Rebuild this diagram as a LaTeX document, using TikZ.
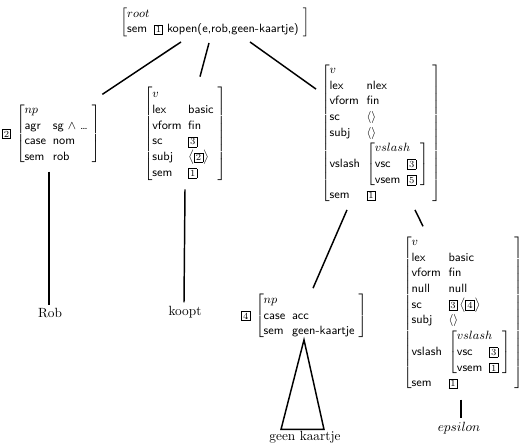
\documentclass[tikz,border=0pt]{standalone}
\usepackage{amsmath}
\usepackage{amssymb}
\usepackage{tikz}
\usetikzlibrary{calc}

\newcommand{\tagnum}[1]{{\setlength{\fboxsep}{1pt}\fbox{\rmfamily\scriptsize #1}}}
\newcommand{\avm}[2]{$\left[\renewcommand{\arraystretch}{1.07}\begin{tabular}{@{}l@{\hspace{5pt}}l@{\hspace{3pt}}}\multicolumn{2}{@{}l}{$#1$}\\#2\end{tabular}\right]$}

\tikzset{
  avmnode/.style={inner sep=0pt, font=\small\sffamily},
  leaf/.style={inner sep=1pt},
  branch/.style={line width=1.1pt}
}

\begin{document}
\begin{tikzpicture}[x=0.75pt, y=-0.75pt]
\useasboundingbox (0,0) rectangle (521,444);
% feature structures
\node[avmnode] (root) at (215,22) {\avm{root}{sem & \tagnum{1} kopen(e,rob,geen-kaartje)}};
\node[avmnode] (np1) at (51,134) {\tagnum{2}\hspace{4pt}\avm{np}{agr & sg $\wedge$ \dots\\ case & nom\\ sem & rob}};
\node[avmnode] (vk) at (185,134) {\avm{v}{lex & basic\\ vform & fin\\ sc & \tagnum{3}\\ subj & $\bigl\langle\tagnum{2}\bigr\rangle$\\ sem & \tagnum{1}}};
\node[avmnode] (vs) at (381,133) {\avm{v}{lex & nlex\\ vform & fin\\ sc & $\langle\rangle$\\ subj & $\langle\rangle$\\
  vslash & \avm{vslash}{vsc & \tagnum{3}\\ vsem & \tagnum{5}}\\ sem & \tagnum{1}}};
\node[avmnode] (np2) at (304,316) {\tagnum{4}\hspace{4pt}\avm{np}{case & acc\\ sem & geen-kaartje}};
\node[avmnode] (ve) at (463,313) {\avm{v}{lex & basic\\ vform & fin\\ null & null\\ sc & \tagnum{3}\,$\bigl\langle\tagnum{4}\bigr\rangle$\\ subj & $\langle\rangle$\\
  vslash & \avm{vslash}{vsc & \tagnum{3}\\ vsem & \tagnum{1}}\\ sem & \tagnum{1}}};
% words
\node[leaf] (rob) at (50,313) {Rob};
\node[leaf] (koopt) at (185,312) {koopt};
\node[leaf] (gk) at (305,437) {geen kaartje};
\node[leaf] (eps) at (459,428) {$epsilon$};
% branches
\draw[branch] ($(root.south)+(-34,4)$) -- ($(np1.north east)+(2,-8)$);
\draw[branch] ($(root.south)+(-6,5)$) -- ($(vk.north)+(15,-10)$);
\draw[branch] ($(root.south)+(35,4)$) -- ($(vs.north west)+(-5,27)$);
\draw[branch] ($(vs.south)+(-34,6)$) -- ($(np2.north)+(9,-4)$);
\draw[branch] ($(vs.south)+(34,6)$) -- ($(ve.north)+(-40,-8)$);
\draw[branch] ($(np1.south)+(-2,6)$) -- ($(rob.north)+(-1,-2)$);
\draw[branch] ($(vk.south)+(0,8)$) -- ($(koopt.north)+(-1,-2)$);
\draw[branch] (np2.south) -- ($(gk.north)+(-24,0)$) -- ($(gk.north)+(19,0)$) -- cycle;
\draw[branch] ($(ve.south)+(-2,8)$) -- ($(eps.north)+(2,-2)$);
\end{tikzpicture}
\end{document}
